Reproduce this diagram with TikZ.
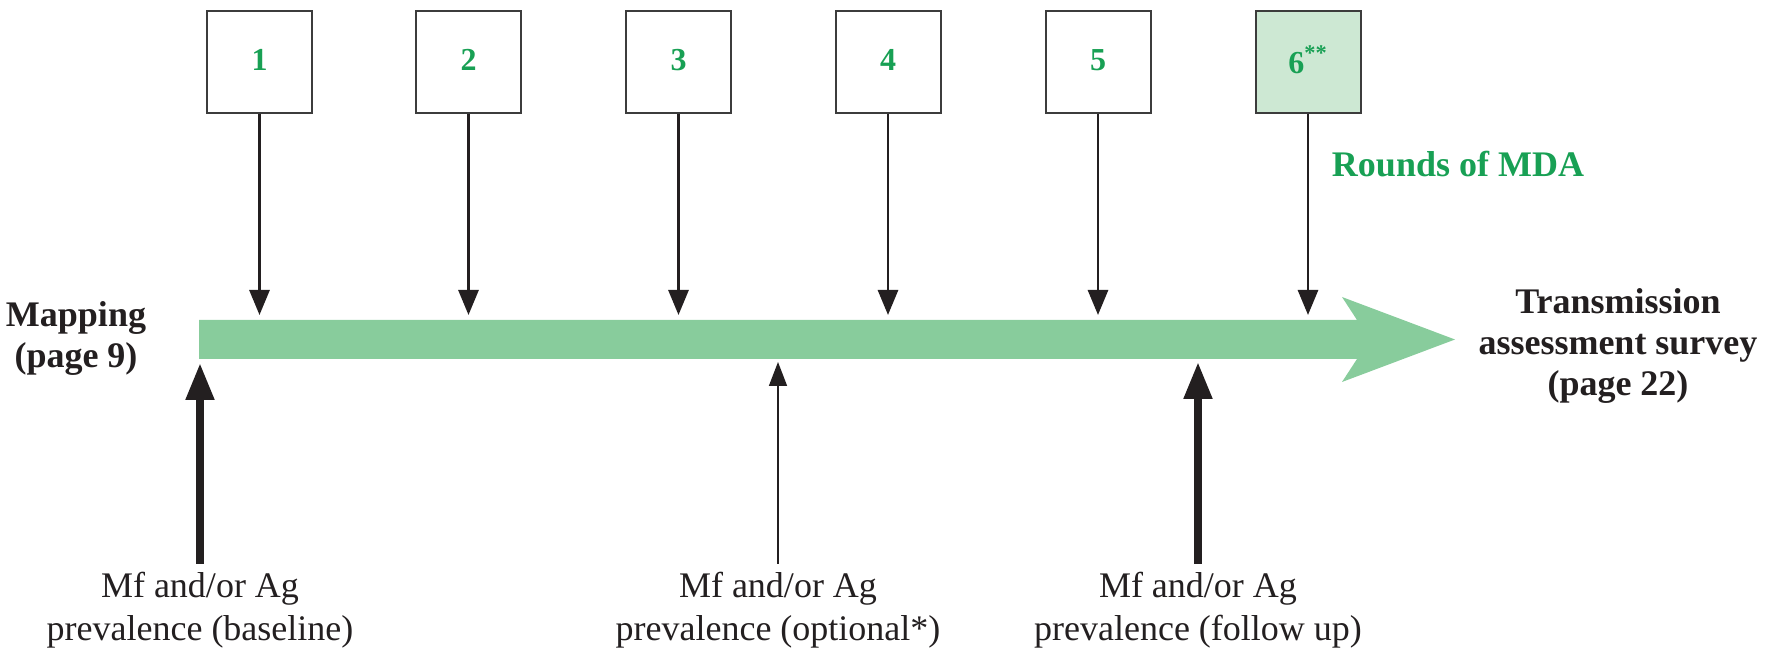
\documentclass[tikz,border=0pt]{standalone}
\usepackage{fontspec}
\setmainfont{Liberation Serif}
\usetikzlibrary{arrows.meta}
\definecolor{mdagreen}{RGB}{24,160,84}
\definecolor{barfill}{RGB}{136,204,156}
\definecolor{boxfill}{RGB}{205,232,211}
\definecolor{boxline}{RGB}{60,60,60}
\definecolor{ink}{RGB}{35,31,32}
\newcommand{\rnum}[1]{\raisebox{2.25pt}{#1}}
\begin{document}
\begin{tikzpicture}[x=0.5pt,y=-0.5pt,
  roundbox/.style={draw=boxline, line width=1pt, minimum width=52.5pt, minimum height=51pt,
    inner sep=0pt, font=\fontsize{16}{18}\selectfont\bfseries, text=mdagreen},
  downarrow/.style={-{Triangle[width=10pt,length=12.5pt]}, line width=1.4pt, draw=ink},
  thickup/.style={-{Triangle[width=13.5pt,length=18.5pt]}, line width=4pt, draw=ink},
  thinup/.style={-{Triangle[width=9pt,length=12pt]}, line width=0.8pt, draw=ink},
  lbl/.style={align=center, inner sep=4pt, anchor=north, text=ink,
    font=\fontsize{18}{21.5}\selectfont},
  boldlbl/.style={align=center, inner sep=0pt, anchor=north, text=ink,
    font=\fontsize{18}{20.5}\selectfont\bfseries}
]
\useasboundingbox (0,0) rectangle (1785,651);

% green timeline arrow
\fill[barfill] (199,320) -- (1357,320) -- (1342,297) -- (1455,339.5) -- (1342,382)
  -- (1357,359) -- (199,359) -- cycle;

% round boxes
\node[roundbox] (r1) at (259.5,62) {\rnum{1}};
\node[roundbox] (r2) at (468.5,62) {\rnum{2}};
\node[roundbox] (r3) at (678.5,62) {\rnum{3}};
\node[roundbox] (r4) at (888,62) {\rnum{4}};
\node[roundbox] (r5) at (1098,62) {\rnum{5}};
\node[roundbox, fill=boxfill] (r6) at (1308,62) {\rnum{6\textsuperscript{**}}};

% arrow targets on the bar
\coordinate (t1) at (259.5,315);
\coordinate (t2) at (468.5,315);
\coordinate (t3) at (678.5,315);
\coordinate (t4) at (888,315);
\coordinate (t5) at (1098,315);
\coordinate (t6) at (1308,315);
\foreach \i in {1,...,6} { \draw[downarrow] (r\i.south) -- (t\i); }

% labels
\node[text=mdagreen, font=\fontsize{18}{20.5}\selectfont\bfseries, inner sep=0pt, anchor=base]
  (mda) at (1458,177) {Rounds of MDA};
\node[boldlbl] (map) at (76,301) {Mapping\\(page 9)};
\node[boldlbl] (tas) at (1618,288.5) {Transmission\\assessment survey\\(page 22)};

% bottom labels and upward arrows
\node[lbl] (b1) at (200,564) {Mf and/or Ag\\prevalence (baseline)};
\node[lbl] (b2) at (778,564) {Mf and/or Ag\\prevalence (optional*)};
\node[lbl] (b3) at (1198,564) {Mf and/or Ag\\prevalence (follow up)};
\coordinate (u1) at (200,363);
\coordinate (u2) at (778,362);
\coordinate (u3) at (1198,362);
\draw[thickup] (b1.north) -- (u1);
\draw[thinup] (b2.north) -- (u2);
\draw[thickup] (b3.north) -- (u3);
\end{tikzpicture}
\end{document}
